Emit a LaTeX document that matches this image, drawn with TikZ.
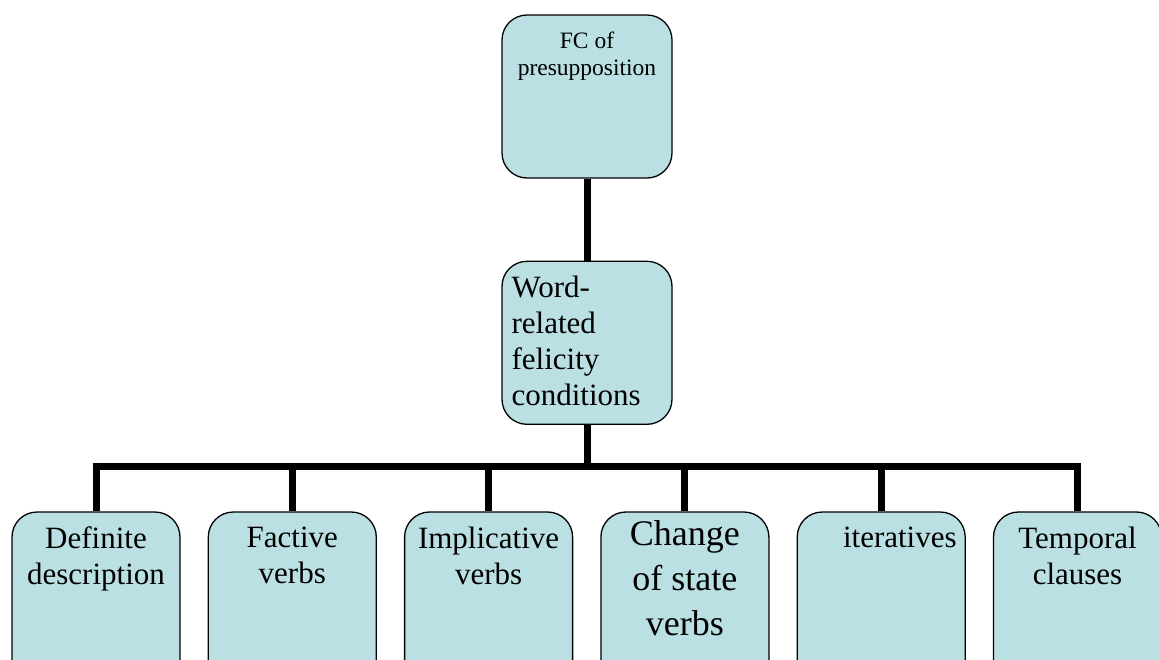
\documentclass[tikz,border=0pt]{standalone}
\usepackage{fontspec}
\setmainfont{Liberation Serif}
\usetikzlibrary{positioning}
\definecolor{boxcyan}{RGB}{187,224,227}

\begin{document}
\begin{tikzpicture}[x=1pt, y=-1pt,
  box/.style={draw, fill=boxcyan, line width=1.3pt, rounded corners=25pt,
    minimum width=168pt, minimum height=200pt, inner sep=0pt},
  txt/.style={anchor=north, align=center, inner sep=0pt, yshift=-15pt,
    font=\fontsize{31}{36}\selectfont},
  link/.style={line width=7pt}]
\useasboundingbox (0,0) rectangle (1159,659);
\clip (0,0) rectangle (1159,659);

\node[box, minimum width=170pt, minimum height=163pt,
  label={[txt, yshift=-2pt, font=\fontsize{23.5}{27}\selectfont]north:FC of\\presupposition}] (fc) at (587,96.5) {};
\node[box, minimum width=170pt, minimum height=163pt, below=82pt of fc,
  label={[txt, anchor=north west, align=left, xshift=10pt]north west:Word-\\related\\felicity\\conditions}] (wr) {};

\node[box, label={[txt]north:Definite\\description}] (c1) at (96,612) {};
\node[box, right=27pt of c1, label={[txt]north:Factive\\verbs}] (c2) {};
\node[box, right=27pt of c2, label={[txt]north:Implicative\\verbs}] (c3) {};
\node[box, right=27pt of c3,
  label={[txt, yshift=6pt, font=\fontsize{36}{45}\selectfont]north:Change\\of state\\verbs}] (c4) {};
\node[box, right=27pt of c4, label={[txt, anchor=north east, xshift=-9pt]north east:iteratives}] (c5) {};
\node[box, right=27pt of c5, label={[txt]north:Temporal\\clauses}] (c6) {};

\coordinate (hub) at (wr.south |- 0,466);
\draw[link] (fc) -- (wr);
\draw[link] (wr) -- (hub);
\draw[link] (hub) -| (c1.north);
\draw[link] (hub) -| (c2.north);
\draw[link] (hub) -| (c3.north);
\draw[link] (hub) -| (c4.north);
\draw[link] (hub) -| (c5.north);
\draw[link] (hub) -| (c6.north);
\end{tikzpicture}
\end{document}
